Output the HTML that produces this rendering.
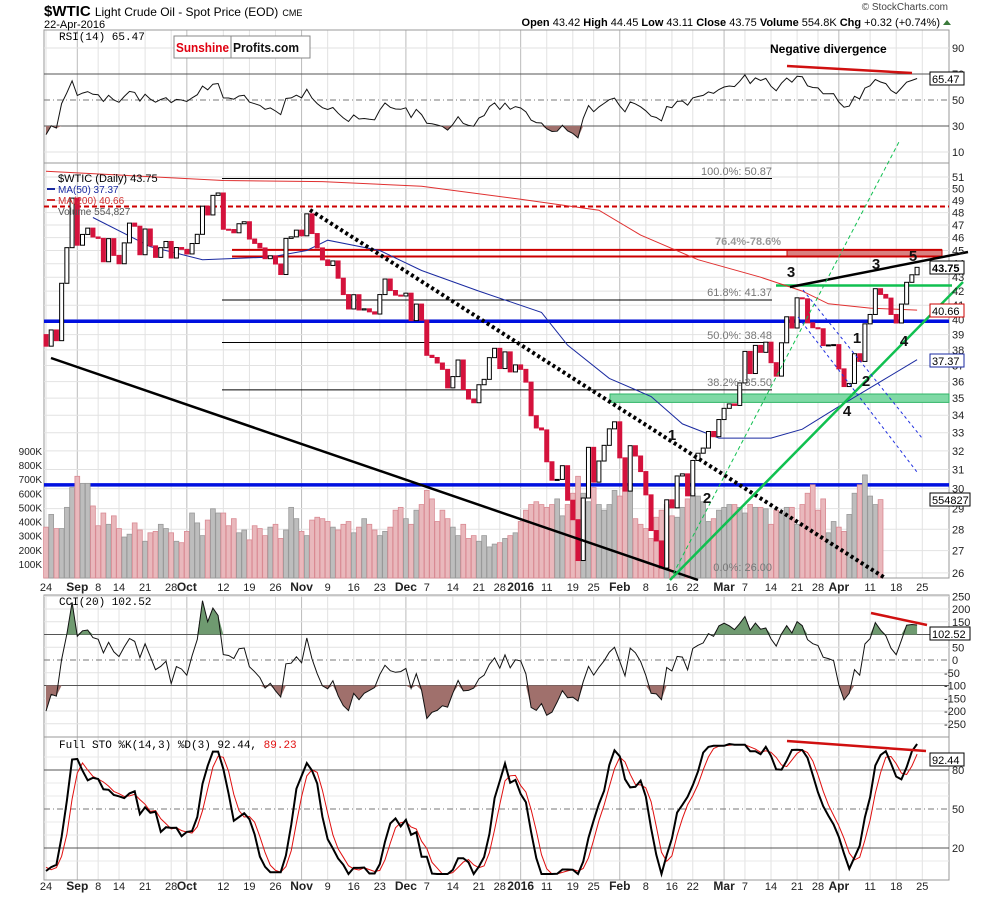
<!DOCTYPE html>
<html><head><meta charset="utf-8"><style>
html,body{margin:0;padding:0;background:#fff;}
svg{display:block;font-family:"Liberation Sans",sans-serif;}
</style></head><body>
<svg id="chart" width="990" height="897" viewBox="0 0 990 897" xmlns="http://www.w3.org/2000/svg">
<g id="grid"></g>
<g id="lvl"></g>
<g id="vol"></g>
<g id="ma"></g>
<g id="cdl"></g>
<g id="ind"></g>
<g id="ann"></g>
<g id="txt"></g>
</svg>
<script>
const closes=[38.24,39.31,38.60,42.56,45.22,49.20,45.41,46.25,46.75,46.05,45.94,44.15,45.92,44.63,44.00,45.59,47.15,46.90,44.68,46.68,45.36,44.48,45.22,45.70,44.43,45.23,45.09,44.74,45.54,46.26,48.53,47.81,49.43,49.63,46.66,46.64,46.38,47.10,47.26,45.89,45.55,45.20,44.38,44.60,43.98,43.20,45.94,46.06,46.59,46.14,47.90,46.32,45.20,44.29,43.87,44.21,42.93,41.75,40.74,41.74,40.67,40.75,40.54,40.39,41.75,42.87,42.04,41.71,41.65,41.85,39.94,41.08,39.97,37.65,37.51,37.16,36.76,35.62,36.31,37.35,35.52,34.95,34.73,35.81,36.14,37.50,38.10,36.81,37.87,36.60,37.04,36.76,35.97,33.97,33.27,33.16,31.41,30.44,30.48,31.20,29.42,28.46,26.55,29.53,32.19,30.34,31.45,32.30,33.22,33.62,31.62,29.88,32.28,31.72,30.89,29.69,27.94,27.45,26.21,29.44,29.04,30.66,30.77,29.64,31.48,31.87,32.15,33.07,32.78,33.75,34.40,34.66,34.57,35.92,37.90,36.50,38.29,37.84,38.50,37.18,36.34,38.46,40.20,39.44,41.52,41.45,39.79,39.46,39.39,38.28,38.32,38.34,36.79,35.70,35.89,37.75,37.26,39.72,40.36,42.17,41.76,41.50,40.36,39.78,41.08,42.63,43.18,43.73];
const preCloses=[45.17,45.74,45.09,44.66,43.87,43.87,44.96,43.08,43.30,42.23,41.87,42.62,42.87,40.80,41.14,40.45];
const volumes=[360,450,350,350,500,640,720,670,670,510,370,460,380,440,350,290,310,390,340,260,320,330,380,350,320,260,250,330,460,390,300,410,490,460,460,370,420,320,340,270,370,350,300,360,380,280,340,500,420,330,300,410,430,420,400,360,340,380,400,320,360,420,380,340,300,330,360,480,500,420,380,480,520,620,560,400,480,420,360,300,380,280,300,260,300,220,240,250,280,300,320,400,480,520,540,520,500,520,560,440,520,600,720,600,540,640,520,480,520,620,580,640,650,420,380,350,280,430,480,520,440,430,500,560,600,580,540,400,420,480,500,520,520,500,460,520,500,500,490,380,480,460,500,500,380,520,600,660,480,560,320,400,360,330,450,600,660,730,580,520,555];
const ma50Idx=[9,20,30,43,50,54,64,72,83,95,100,108,116,122,129,139,145,152,160,167];
const ma50Val=[47.6,45.3,44.3,44.5,45.0,45.8,45.0,43.5,42.0,40.5,38.3,36.2,35.1,33.5,32.7,32.7,33.2,34.5,36.0,37.37];
const ma200Idx=[0,34,53,72,91,106,114,125,137,145,150,158,167];
const ma200Val=[51.5,50.7,50.6,50.2,49.1,48.2,46.2,44.3,43.0,42.0,41.1,40.8,40.66];
const tickIdx=[0,6,10,14,19,24,27,34,39,44,49,54,59,64,69,73,78,83,87,91,96,101,105,110,115,120,124,130,134,139,144,148,152,158,163,168];
const tickLbl=['24','Sep','8','14','21','28','Oct','12','19','26','Nov','9','16','23','Dec','7','14','21','28','2016','11','19','25','Feb','8','16','22','Mar','7','14','21','28','Apr','11','18','25'];
const priceTicks=[26,27,28,29,30,31,32,33,34,35,36,37,38,39,40,41,42,43,44,45,46,47,48,49,50,51];
const volTicks=[100,200,300,400,500,600,700,800,900];

const NS='http://www.w3.org/2000/svg';
const X0=46,DX=5.216,L=44,R=949;
const xOf=i=>X0+i*DX;
const yP=p=>177+(Math.log(51)-Math.log(p))*587.5;
const yV=v=>578-v/800*113;
const yR=r=>152-(r-10)*1.3;
const yC=c=>660-c*0.255;
const yS=s=>874-s*1.3;
function mk(tag,attrs,parent,text){const e=document.createElementNS(NS,tag);for(const k in attrs)e.setAttribute(k,attrs[k]);if(text!==undefined)e.textContent=text;document.getElementById(parent).appendChild(e);return e;}
function line(x1,y1,x2,y2,st,w,p,dash){return mk('line',{x1,y1,x2,y2,stroke:st,'stroke-width':w,'stroke-dasharray':dash||'none'},p);}

const panels=[[30,163],[163,578],[595,737],[737,880]];
panels.forEach(([t,b])=>{
  tickIdx.forEach((ti,k)=>{const x=xOf(ti);const e=line(x,t,x,b,(tickLbl[k].length>2&&isNaN(tickLbl[k]))||tickLbl[k]==='2016'?'#bbb':'#e2e2e2',1,'grid');});
  const r=mk('rect',{x:L,y:t,width:R-L,height:b-t,fill:'none',stroke:'#999','stroke-width':1},'grid');
  
});
priceTicks.forEach(p=>{const y=yP(p);line(L,y,R,y,'#e2e2e2',1,'grid');
  const t=mk('text',{x:952,y:y+4,'font-size':11,fill:'#222'},'txt',String(p));});
volTicks.forEach(v=>{const t=mk('text',{x:42,y:yV(v)+4,'font-size':10,fill:'#222','text-anchor':'end'},'txt',v+'K');});
[[90,'90'],[70,'70'],[50,'50'],[30,'30'],[10,'10']].forEach(([v,s])=>{const y=yR(v);if(v!==90&&v!==10)line(L,y,R,y,v===50?'#777':'#555',1,'grid',v===50?'6,3,1,3':'');else line(L,y,R,y,'#e2e2e2',1,'grid');mk('text',{x:952,y:y+4,'font-size':11,fill:'#222'},'txt',s);});
[250,200,150,100,50,0,-50,-100,-150,-200,-250].forEach(v=>{const y=yC(v);
  if(v===100||v===-100)line(L,y,R,y,'#555',1,'grid');else if(v===0)line(L,y,R,y,'#777',1,'grid','6,3,1,3');else line(L,y,R,y,'#e2e2e2',1,'grid');
  mk('text',{x:v<0?944:952,y:y+4,'font-size':11,fill:'#222'},'txt',String(v));});
[80,50,20].forEach(v=>{const y=yS(v);line(L,y,R,y,v===50?'#777':'#555',1,'grid',v===50?'6,3,1,3':'');mk('text',{x:952,y:y+4,'font-size':11,fill:'#222'},'txt',String(v));});
[60,70,90,30,40,10].forEach(v=>line(L,yS(v),R,yS(v),'#e8e8e8',1,'grid'));
[591,890].forEach(yy=>{tickIdx.forEach((ti,k)=>{const bold=isNaN(tickLbl[k])||tickLbl[k]==='2016';const t=mk('text',{x:xOf(ti),y:yy,'font-size':bold?12:11,'font-weight':bold?'bold':'normal',fill:'#222','text-anchor':'middle'},'txt',tickLbl[k]);});});

closes.forEach((c,i)=>{const o=i?closes[i-1]:39.0;const up=c>=o;const v=volumes[i];
  const r=mk('rect',{x:xOf(i)-2.4,y:yV(v),width:4.8,height:578-yV(v),fill:up?'#bdbdbd':'#e9b8bc',stroke:up?'#999':'#d98a93','stroke-width':0.8},'vol');
  });

function lvl(p,x1,x2,c,w,dash){const y=yP(p);return line(x1,y,x2,y,c,w,'lvl',dash);}
lvl(48.5,L,R,'#c00',2,'5,3');
lvl(50.87,222,772,'#000',1);lvl(41.37,222,772,'#000',1);lvl(38.48,222,772,'#000',1);lvl(35.50,222,772,'#000',1);lvl(26.00,222,772,'#000',1);
mk('rect',{x:787,y:yP(45.05),width:155,height:yP(44.55)-yP(45.05),fill:'#d98080',stroke:'#c00','stroke-width':1},'lvl');
lvl(45.05,232,942,'#c00',2);lvl(44.55,232,942,'#c00',2);
mk('rect',{x:610,y:yP(35.25),width:339,height:yP(34.75)-yP(35.25),fill:'#7fd9a5',stroke:'#2fb566','stroke-width':1},'lvl');
lvl(39.9,L,R,'#0010e0',3.5);lvl(30.2,L,R,'#0010e0',3.5);
lvl(42.4,776,952,'#10c050',2.5);

function pathFrom(idx,val,fy){return idx.map((ii,k)=>(k?'L':'M')+xOf(ii).toFixed(1)+','+fy(val[k]).toFixed(1)).join(' ');}
let e=mk('path',{d:pathFrom(ma200Idx,ma200Val,yP),fill:'none',stroke:'#e03030','stroke-width':1},'ma');
e=mk('path',{d:pathFrom(ma50Idx,ma50Val,yP),fill:'none',stroke:'#1a2aa0','stroke-width':1},'ma');

closes.forEach((c,i)=>{const o=i?closes[i-1]:39.0;const up=c>=o;const y1=yP(Math.max(o,c)),y2=yP(Math.min(o,c));
  const r=mk('rect',{x:xOf(i)-2,y:y1,width:4,height:Math.max(1,y2-y1),fill:up?'#fff':'#d4123c',stroke:up?'#000':'#d4123c','stroke-width':1},'cdl');
  });

line(51,358,698,580,'#000',2.5,'ann');
line(310,210,885,578,'#000',4,'ann','3,3');
line(790,287,968,252,'#000',2.5,'ann');
line(670,580,963,282,'#10c050',2.5,'ann');
line(670,580,900,140,'#10c050',1,'ann','4,3');
line(803,290,922,438,'#2030e0',1,'ann','3,3');
line(798,317,917,472,'#2030e0',1,'ann','3,3');
[['3',791,277],['3',876,269],['5',913,261],['1',857,343],['2',866,386],['4',847,416],['4',904,346],['1',672,440],['2',707,503]].forEach(([s,x,y])=>{const t=mk('text',{x,y,'font-size':15,'font-weight':'bold','text-anchor':'middle',fill:'#111'},'ann',s);});
[['100.0%: 50.87',772,175],['61.8%: 41.37',772,296],['50.0%: 38.48',772,339],['38.2%: 35.50',772,386],['0.0%: 26.00',772,571]].forEach(([s,x,y])=>{const t=mk('text',{x,y,'font-size':11,fill:'#777','text-anchor':'end'},'ann',s);});
mk('text',{x:748,y:245,'font-size':11,'font-weight':'bold',fill:'#999','text-anchor':'middle'},'ann','76.4%-78.6%');

const all=preCloses.concat(closes);const P=preCloses.length;
let ag=0,al=0;const rsi=[];
for(let i=1;i<all.length;i++){const d=all[i]-all[i-1];const g=Math.max(d,0),l=Math.max(-d,0);
  if(i<=14){ag+=g/14;al+=l/14;}else{ag=(ag*13+g)/14;al=(al*13+l)/14;}
  if(i>=P)rsi.push(100-100/(1+ag/Math.max(al,1e-6)));}
const cci=[];for(let i=P;i<all.length;i++){const w=all.slice(Math.max(0,i-19),i+1);const m=w.reduce((a,b)=>a+b,0)/w.length;const md=w.reduce((a,b)=>a+Math.abs(b-m),0)/w.length;cci.push((all[i]-m)/(0.015*Math.max(md,1e-6)));}
const fk=[];for(let i=0;i<all.length;i++){const w=all.slice(Math.max(0,i-13),i+1);const hi=Math.max(...w),lo=Math.min(...w);fk.push(hi===lo?50:(all[i]-lo)/(hi-lo)*100);}
const sm=(a,n)=>a.map((v,i)=>{const w=a.slice(Math.max(0,i-n+1),i+1);return w.reduce((x,y)=>x+y,0)/w.length;});
const kS=sm(fk,3),dS=sm(kS,3);const K=kS.slice(P),D=dS.slice(P);
function ser(arr,fy){return arr.map((v,i)=>(i?'L':'M')+xOf(i).toFixed(1)+','+fy(v).toFixed(1)).join(' ');}
function fill(arr,fy,th,above,col,name){const yt=fy(th);let d='M'+xOf(0)+','+yt;arr.forEach((v,i)=>{const vv=above?Math.max(v,th):Math.min(v,th);d+=' L'+xOf(i).toFixed(1)+','+fy(vv).toFixed(1);});d+=' L'+xOf(arr.length-1)+','+yt+'Z';const p=mk('path',{d,fill:col,stroke:'none'},'ind');}
const rc=rsi.map(v=>Math.max(0,Math.min(100,v)));
fill(rc,yR,30,false,'#a0706c','rsi-oversold-fill');
e=mk('path',{d:ser(rc,yR),fill:'none',stroke:'#111','stroke-width':1},'ind');
const cc=cci.map(v=>Math.max(-260,Math.min(260,v)));
fill(cc,yC,100,true,'#6f9a70','cci-above-100-fill');fill(cc,yC,-100,false,'#a0706c','cci-below-100-fill');
e=mk('path',{d:ser(cc,yC),fill:'none',stroke:'#111','stroke-width':1},'ind');
e=mk('path',{d:ser(D,yS),fill:'none',stroke:'#e01010','stroke-width':1},'ind');
e=mk('path',{d:ser(K,yS),fill:'none',stroke:'#000','stroke-width':2},'ind');
line(787,66,912,73,'#d01010',2.5,'ann');line(871,613,927,625,'#d01010',2.5,'ann');line(787,741,926,751,'#d01010',2.5,'ann');
</script>
<svg style="position:absolute;left:0;top:0" width="990" height="897">
<text x="44" y="16" font-size="15" font-weight="bold" font-family="Liberation Sans,sans-serif">$WTIC <tspan font-weight="normal" font-size="12">Light Crude Oil - Spot Price (EOD)</tspan> <tspan font-weight="normal" font-size="9">CME</tspan></text>
<text x="44" y="28" font-size="11" font-family="Liberation Sans,sans-serif">22-Apr-2016</text>
<text x="948" y="10" font-size="10" fill="#444" text-anchor="end" font-family="Liberation Sans,sans-serif">© StockCharts.com</text>
<text x="940" y="26" font-size="11" text-anchor="end" font-family="Liberation Sans,sans-serif"><tspan font-weight="bold">Open</tspan> 43.42 <tspan font-weight="bold">High</tspan> 44.45 <tspan font-weight="bold">Low</tspan> 43.11 <tspan font-weight="bold">Close</tspan> 43.75 <tspan font-weight="bold">Volume</tspan> 554.8K <tspan font-weight="bold">Chg</tspan> +0.32 (+0.74%)</text>
<polygon points="943,25 951,25 947,20" fill="#3a7a3a"/>
<g><rect x="174" y="36" width="136" height="22" fill="#fff" stroke="#888"/><line x1="231" y1="36" x2="231" y2="58" stroke="#888"/><text x="176" y="52" font-size="13" font-weight="bold" fill="#e00010" textLength="53" lengthAdjust="spacingAndGlyphs" font-family="Liberation Sans,sans-serif">Sunshine</text><text x="233" y="52" font-size="13" font-weight="bold" fill="#111" textLength="66" lengthAdjust="spacingAndGlyphs" font-family="Liberation Sans,sans-serif">Profits.com</text></g>
<text x="59" y="40" font-size="11" font-family="Liberation Mono,monospace">RSI(14) 65.47</text>
<text x="770" y="53" font-size="12" font-weight="bold" font-family="Liberation Sans,sans-serif">Negative divergence</text>
<g font-size="10" font-family="Liberation Sans,sans-serif">
<text x="58" y="182" font-size="11">$WTIC (Daily) 43.75</text>
<line x1="47" y1="189" x2="55" y2="189" stroke="#1a2aa0" stroke-width="2"/><text x="58" y="193" fill="#1a2aa0">MA(50) 37.37</text>
<line x1="47" y1="200" x2="55" y2="200" stroke="#d03030" stroke-width="2"/><text x="58" y="204" fill="#d03030">MA(200) 40.66</text>
<text x="58" y="215" fill="#555">Volume 554,827</text></g>
<text x="59" y="605" font-size="11" font-family="Liberation Mono,monospace">CCI(20) 102.52</text>
<text x="59" y="748" font-size="11" font-family="Liberation Mono,monospace">Full STO %K(14,3) %D(3) 92.44, <tspan fill="#e01010">89.23</tspan></text>
<g font-size="11" font-family="Liberation Sans,sans-serif">
<rect x="930" y="261" width="34" height="13" fill="#fff" stroke="#000"/><text x="932" y="272" font-weight="bold">43.75</text>
<rect x="930" y="304" width="34" height="13" fill="#fff" stroke="#c00"/><text x="932" y="315">40.66</text>
<rect x="930" y="354" width="34" height="13" fill="#fff" stroke="#1a2aa0"/><text x="932" y="365">37.37</text>
<rect x="930" y="493" width="40" height="13" fill="#fff" stroke="#000"/><text x="932" y="504">554827</text>
<rect x="930" y="72" width="34" height="13" fill="#fff" stroke="#000"/><text x="932" y="83">65.47</text>
<rect x="930" y="627" width="40" height="13" fill="#fff" stroke="#000"/><text x="932" y="638">102.52</text>
<rect x="930" y="753" width="34" height="13" fill="#fff" stroke="#000"/><text x="932" y="764">92.44</text></g>
</svg>
</body></html>
